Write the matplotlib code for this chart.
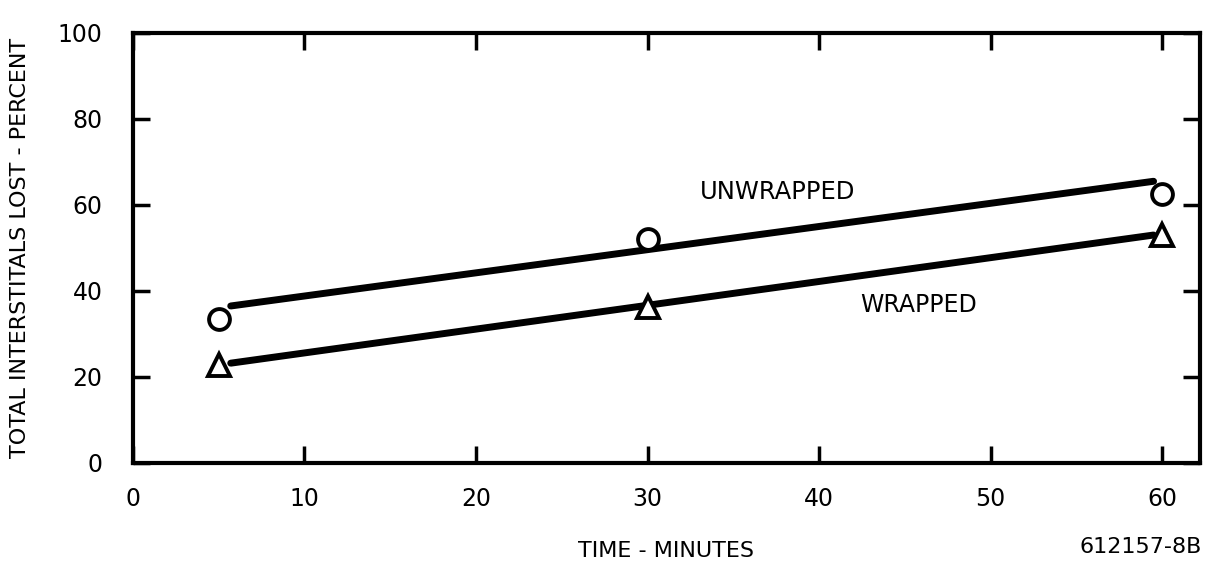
import matplotlib.pyplot as plt

# Measured losses
time_min = [5, 30, 60]
unwrapped = [33.5, 52, 62.5]
wrapped = [22.8, 36.3, 53]

# Hand-drawn trend lines
fit_x = [5.7, 59.5]
unwrapped_fit = [36.5, 65.5]
wrapped_fit = [23.2, 53.0]

x_ticks = [0, 10, 20, 30, 40, 50, 60]
y_ticks = [0, 20, 40, 60, 80, 100]

plt.rcParams['font.family'] = 'DejaVu Sans'

fig = plt.figure(figsize=(12.12, 5.68), dpi=100)
ax = fig.add_axes([0.1097, 0.185, 0.8803, 0.757])

ax.plot(fit_x, unwrapped_fit, color='black', lw=5, solid_capstyle='round')
ax.plot(fit_x, wrapped_fit, color='black', lw=5, solid_capstyle='round')

ax.plot(time_min, unwrapped, linestyle='none', marker='o', ms=15,
        mfc='white', mec='black', mew=2.8)
ax.plot(time_min, wrapped, linestyle='none', marker='^', ms=16,
        mfc='white', mec='black', mew=2.8)

ax.text(37.6, 63, 'UNWRAPPED', fontsize=17.5, ha='center', va='center')
ax.text(45.8, 36.7, 'WRAPPED', fontsize=17, ha='center', va='center')

ax.set_xlim(0, 62.2)
ax.set_ylim(0, 100)
ax.set_xticks(x_ticks)
ax.set_yticks(y_ticks)

for s in ax.spines.values():
    s.set_linewidth(3)

ax.tick_params(direction='in', length=12, width=2.5, labelsize=17,
               top=True, right=True, pad=17)
ax.tick_params(axis='y', pad=22)

ax.set_xlabel('TIME - MINUTES', fontsize=16, labelpad=22)
ax.set_ylabel('TOTAL INTERSTITALS LOST - PERCENT', fontsize=16, labelpad=20)

fig.text(0.992, 0.02, '612157-8B', fontsize=16, ha='right', va='bottom')

fig.savefig('out.png', dpi=100)
